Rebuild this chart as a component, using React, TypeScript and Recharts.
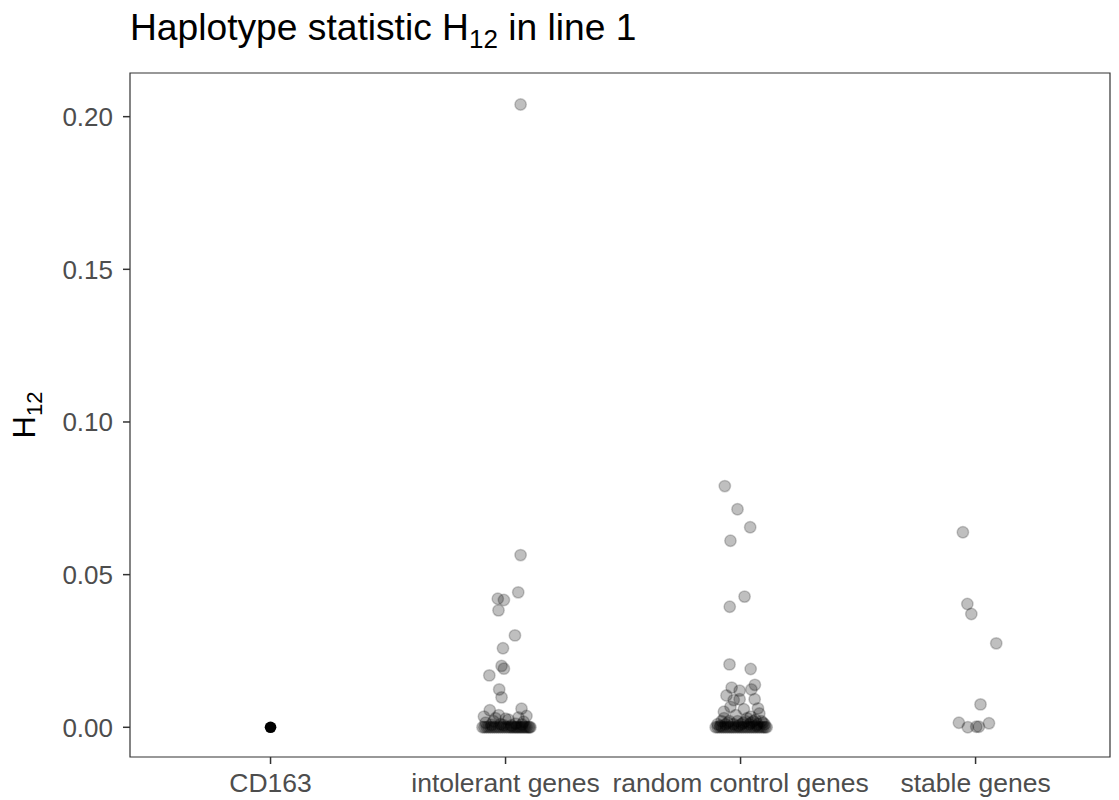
import { ScatterChart, Scatter, XAxis, YAxis, ReferenceArea } from "recharts";

// categories on the x axis
const categories = ["CD163", "intolerant genes", "random control genes", "stable genes"];
const yTicks = [0, 0.05, 0.1, 0.15, 0.2];

// CD163 itself
const cd163H12 = [0];
const cd163Jitter = [0];

// intolerant genes: H12 values and the horizontal jitter
const intolerantH12 = [
  0.204, 0.0564, 0.0442, 0.0421, 0.0417, 0.0383, 0.0301, 0.0259, 0.0201, 0.0192,
  0.017, 0.0124, 0.0098, 0.0056, 0.0061, 0.0035, 0.0037, 0.004,
  0, 0, 0, 0, 0, 0, 0, 0, 0, 0, 0, 0, 0, 0, 0,
  0, 0, 0, 0, 0, 0, 0, 0, 0, 0, 0, 0, 0, 0,
  0.0015, 0.002, 0.001, 0.0025, 0.0012, 0.0018, 0.003, 0.0028, 0.0032,
  0.0008, 0.0006, 0.0009, 0.0007,
];
const intolerantJitter = [
  0.064, 0.064, 0.054, -0.033, -0.007, -0.03, 0.04, -0.011, -0.017, -0.007,
  -0.069, -0.027, -0.017, -0.067, 0.068, -0.092, 0.089, -0.029,
  -0.098, -0.081, -0.064, -0.047, -0.03, -0.013, 0.004, 0.021, 0.034, 0.047, 0.06, 0.072, 0.085, 0.098, 0.106,
  -0.09, -0.073, -0.056, -0.039, -0.022, -0.005, 0.012, 0.027, 0.041, 0.053, 0.066, 0.079, 0.091, 0.102,
  -0.085, -0.051, -0.021, 0.013, 0.043, 0.077, -0.043, 0, 0.055,
  -0.06, 0.025, 0.07, -0.008,
];

// random control genes
const randomH12 = [
  0.079, 0.0714, 0.0655, 0.0611, 0.0428, 0.0395, 0.0206, 0.0191, 0.013, 0.012,
  0.0139, 0.0124, 0.0104, 0.0089, 0.0092, 0.0092, 0.0067, 0.0062, 0.0059, 0.0051, 0.0035,
  0, 0, 0, 0, 0, 0, 0, 0, 0, 0, 0, 0, 0, 0,
  0, 0, 0, 0, 0, 0, 0, 0, 0, 0, 0, 0, 0,
  0.001, 0.001, 0.001, 0.001, 0.001, 0.001, 0.001,
  0.002, 0.002, 0.002, 0.002, 0.002, 0.002,
  0.0005, 0.0005, 0.0005, 0.0015, 0.0015, 0.0015, 0.0015,
  0.003, 0.003, 0.0025, 0.004, 0.0045,
];
const randomJitter = [
  -0.067, -0.013, 0.041, -0.043, 0.017, -0.046, -0.047, 0.043, -0.038, -0.004,
  0.061, 0.046, -0.06, -0.029, -0.004, 0.06, -0.043, 0.074, 0.014, -0.071, 0.043,
  -0.106, -0.089, -0.072, -0.055, -0.038, -0.021, -0.004, 0.013, 0.03, 0.047, 0.064, 0.081, 0.098, 0.111,
  -0.098, -0.08, -0.063, -0.046, -0.03, -0.012, 0.005, 0.022, 0.039, 0.056, 0.073, 0.09, 0.105,
  -0.098, -0.064, -0.03, 0.004, 0.038, 0.072, 0.102,
  -0.081, -0.047, -0.013, 0.021, 0.055, 0.089,
  -0.085, -0.009, 0.068, -0.055, 0.012, 0.045, 0.095,
  -0.07, 0.028, 0.064, -0.02, 0.08,
];

// stable genes
const stableH12 = [0.0639, 0.0404, 0.0371, 0.0275, 0.0075, 0.0015, 0.0013, 0, 0.0002, 0.0002];
const stableJitter = [-0.054, -0.035, -0.018, 0.088, 0.021, -0.071, 0.057, -0.033, 0.003, 0.014];

const toPoints = (index: number, values: number[], jitter: number[]) =>
  values.map((v, i) => ({ x: index + jitter[i], y: v }));

const font = "'Liberation Sans', Arial, Helvetica, sans-serif";

const xDomain: [number, number] = [0.402, 4.572];
const yDomain: [number, number] = [-0.00973, 0.2143];

const grayDot = (props: any) => (
  <circle
    cx={props.cx}
    cy={props.cy}
    r={5.7}
    fill="#000"
    fillOpacity={0.25}
    stroke="#000"
    strokeOpacity={0.2}
    strokeWidth={1.5}
  />
);

const blackDot = (props: any) => <circle cx={props.cx} cy={props.cy} r={5.8} fill="#000" />;

export default function App() {
  return (
    <div style={{ position: "relative", width: 1119, height: 800, background: "#fff", fontFamily: font }}>
      <style>{"body{margin:0}"}</style>
      <ScatterChart
        width={1119}
        height={800}
        margin={{ top: 73, right: 9, bottom: 0, left: 70 }}
      >
        <XAxis
          type="number"
          dataKey="x"
          domain={xDomain}
          allowDataOverflow
          ticks={[1, 2, 3, 4]}
          tickFormatter={(v: number) => categories[Math.round(v) - 1]}
          height={43}
          axisLine={false}
          tickSize={7}
          tickMargin={9}
          tickLine={{ stroke: "#333333", strokeWidth: 1.5 }}
          tick={{ fill: "#4D4D4D", fontSize: 26.5, fontFamily: font }}
          interval={0}
        />
        <YAxis
          type="number"
          dataKey="y"
          domain={yDomain}
          allowDataOverflow
          ticks={yTicks}
          tickFormatter={(v: number) => v.toFixed(2)}
          width={60}
          axisLine={false}
          tickSize={7}
          tickMargin={10}
          tickLine={{ stroke: "#333333", strokeWidth: 1.5 }}
          tick={{ fill: "#4D4D4D", fontSize: 26, fontFamily: font }}
          interval={0}
        />
        <ReferenceArea
          x1={xDomain[0]}
          x2={xDomain[1]}
          y1={yDomain[0]}
          y2={yDomain[1]}
          fill="none"
          stroke="#333333"
          strokeWidth={1.2}
          ifOverflow="visible"
        />
        <Scatter data={toPoints(1, cd163H12, cd163Jitter)} shape={blackDot} isAnimationActive={false} />
        <Scatter data={toPoints(2, intolerantH12, intolerantJitter)} shape={grayDot} isAnimationActive={false} />
        <Scatter data={toPoints(3, randomH12, randomJitter)} shape={grayDot} isAnimationActive={false} />
        <Scatter data={toPoints(4, stableH12, stableJitter)} shape={grayDot} isAnimationActive={false} />
      </ScatterChart>
      <svg
        width={1119}
        height={800}
        style={{ position: "absolute", left: 0, top: 0, pointerEvents: "none" }}
      >
        <text x={130} y={40} fontSize={37.2} fill="#000" fontFamily={font}>
          Haplotype statistic H
          <tspan dy={8} fontSize={26}>12</tspan>
          <tspan dy={-8}> in line 1</tspan>
        </text>
        <text
          transform="translate(35,415) rotate(-90)"
          textAnchor="middle"
          fontSize={31}
          fill="#000"
          fontFamily={font}
        >
          H
          <tspan dy={7} fontSize={22}>12</tspan>
        </text>
      </svg>
    </div>
  );
}
